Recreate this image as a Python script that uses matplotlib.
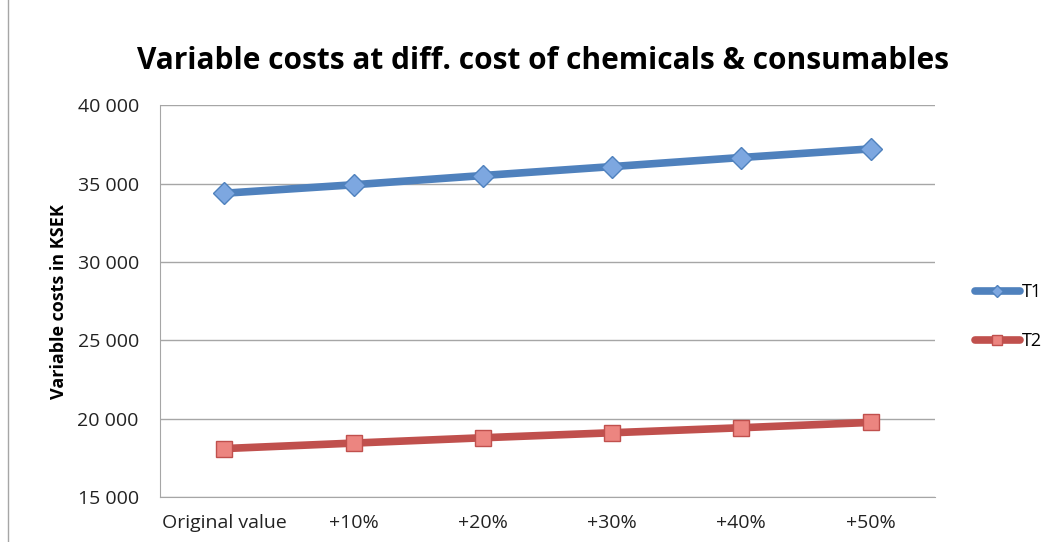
import matplotlib
matplotlib.use("Agg")
from matplotlib import pyplot as plt
from matplotlib.ticker import FuncFormatter
from matplotlib.lines import Line2D

categories = ["Original value", "+10%", "+20%", "+30%", "+40%", "+50%"]
t1 = [34380, 34920, 35510, 36080, 36660, 37210]
t2 = [18090, 18440, 18780, 19100, 19420, 19760]

plt.rcParams['font.family'] = ['Open Sans', 'DejaVu Sans']

fig = plt.figure(figsize=(10.64, 5.42), dpi=100)
ax = fig.add_axes([0.150, 0.083, 0.729, 0.723])

x = list(range(len(categories)))
ax.plot(x, t1, color="#4F81BD", lw=5.5, marker="D", markersize=11,
        markerfacecolor="#7DA7E0", markeredgecolor="#4F81BD", markeredgewidth=1,
        label="T1", solid_capstyle="round")
ax.plot(x, t2, color="#C0504D", lw=5.5, marker="s", markersize=12,
        markerfacecolor="#EC8580", markeredgecolor="#C0504D", markeredgewidth=1,
        label="T2", solid_capstyle="round")

ax.set_xlim(-0.5, 5.5)
ax.set_ylim(15000, 40000)
ax.set_yticks(range(15000, 40001, 5000))
ax.yaxis.set_major_formatter(FuncFormatter(lambda v, p: f"{int(v):,}".replace(",", " ")))
ax.set_xticks(x)
ax.set_xticklabels(categories)
ax.tick_params(axis="both", labelsize=14, length=0, colors="#222222")
ax.tick_params(axis="y", pad=15)
ax.tick_params(axis="x", pad=12)
ax.grid(axis="y", color="#A6A6A6", lw=1)
ax.set_axisbelow(True)
for s in ["top", "right"]:
    ax.spines[s].set_visible(False)
for s in ["left", "bottom"]:
    ax.spines[s].set_color("#A6A6A6")

ax.set_ylabel("Variable costs in KSEK", fontsize=13, fontweight="bold", labelpad=7)
fig.text(0.51, 0.888, "Variable costs at diff. cost of chemicals & consumables",
         ha="center", va="center", fontsize=21.5, fontweight="bold")

# chart border on the left edge
fig.add_artist(Line2D([8 / 1064, 8 / 1064], [0, 1], color="#A6A6A6", lw=1))

ax.legend(loc="center left", bbox_to_anchor=(1.03, 0.46), frameon=False,
          fontsize=13, handlelength=2.5, handletextpad=0.1, labelspacing=1.7,
          markerscale=0.6)

fig.savefig("out.png", dpi=100)
